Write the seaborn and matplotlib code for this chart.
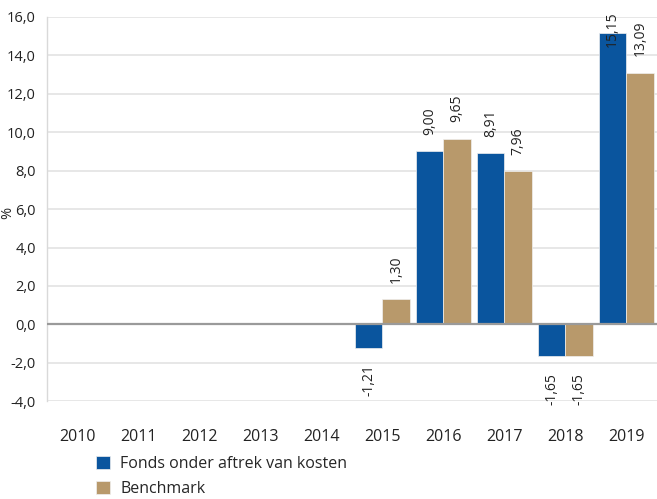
import numpy as np
import matplotlib
matplotlib.use("Agg")
import matplotlib.pyplot as plt
import seaborn as sns
import pandas as pd

# data
years = ["2010", "2011", "2012", "2013", "2014", "2015", "2016", "2017", "2018", "2019"]
data_years = ["2015", "2016", "2017", "2018", "2019"]
fonds = [-1.21, 9.00, 8.91, -1.65, 15.15]
benchmark = [1.30, 9.65, 7.96, -1.65, 13.09]
series = ["Fonds onder aftrek van kosten", "Benchmark"]
colors = ["#0A559E", "#B8996B"]
y_ticks = [-4, -2, 0, 2, 4, 6, 8, 10, 12, 14, 16]


def plot_returns():
    sns.set_style("white")
    plt.rcParams["font.family"] = ["Open Sans", "DejaVu Sans"]

    df = pd.DataFrame({
        "year": data_years * 2,
        "value": fonds + benchmark,
        "series": [series[0]] * len(fonds) + [series[1]] * len(benchmark),
    })

    fig = plt.figure(figsize=(6.57, 4.99), dpi=100)
    ax = fig.add_axes([0.0715, 0.196, 0.9285, 0.77])

    sns.barplot(data=df, x="year", y="value", hue="series", order=years,
                hue_order=series, palette=colors, saturation=1, width=0.9, gap=0,
                edgecolor="#f0f0f0", linewidth=0.5, ax=ax, zorder=3)

    ax.set_ylim(-4, 16)
    ax.set_xlim(-0.5, len(years) - 0.5)
    ax.set_yticks(y_ticks)
    ax.set_yticklabels([f"{t:.1f}".replace(".", ",") for t in y_ticks])
    ax.grid(axis="y", color="#e3e3e3", linewidth=1.2, zorder=0)
    ax.axhline(0, color="#9a9a9a", linewidth=1.6, zorder=4)

    for side in ["top", "right", "bottom"]:
        ax.spines[side].set_visible(False)
    ax.spines["left"].set_color("#d9d9d9")
    ax.spines["left"].set_linewidth(1.0)

    ax.tick_params(axis="y", length=0, pad=8, labelsize=10.5, colors="#222222")
    ax.tick_params(axis="x", length=0, pad=20, labelsize=11.5, colors="#222222")
    ax.set_xlabel("")
    # the "%" sits right against the 6,0 tick, as in the original
    ax.set_ylabel("%", fontsize=10.5, color="#222222")
    ax.yaxis.set_label_coords(-0.052, 0.49)

    # value labels, rotated like the original
    for cont in ax.containers:
        for bar in cont:
            v = bar.get_height()
            if np.isnan(v):
                continue
            x = bar.get_x() + bar.get_width() / 2
            txt = f"{v:.2f}".replace(".", ",")
            if v >= 14.5:
                ax.annotate(txt, xy=(x, 16), xytext=(0, 4), textcoords="offset points",
                            rotation=90, ha="center", va="top", fontsize=10,
                            color="#222222", annotation_clip=False, zorder=5)
            elif v >= 0:
                ax.annotate(txt, xy=(x, v), xytext=(0, 12), textcoords="offset points",
                            rotation=90, ha="center", va="bottom", fontsize=10,
                            color="#222222", zorder=5)
            else:
                ax.annotate(txt, xy=(x, v), xytext=(0, -12), textcoords="offset points",
                            rotation=90, ha="center", va="top", fontsize=10,
                            color="#222222", zorder=5)

    handles, labels = ax.get_legend_handles_labels()
    ax.legend(handles, labels, loc="upper left", bbox_to_anchor=(0.07, -0.125),
              frameon=False, fontsize=11.5, handlelength=0.9, handleheight=0.9,
              handletextpad=0.6, labelspacing=0.55, borderaxespad=0)

    fig.savefig("out.png", dpi=100)
    return fig


plot_returns()
